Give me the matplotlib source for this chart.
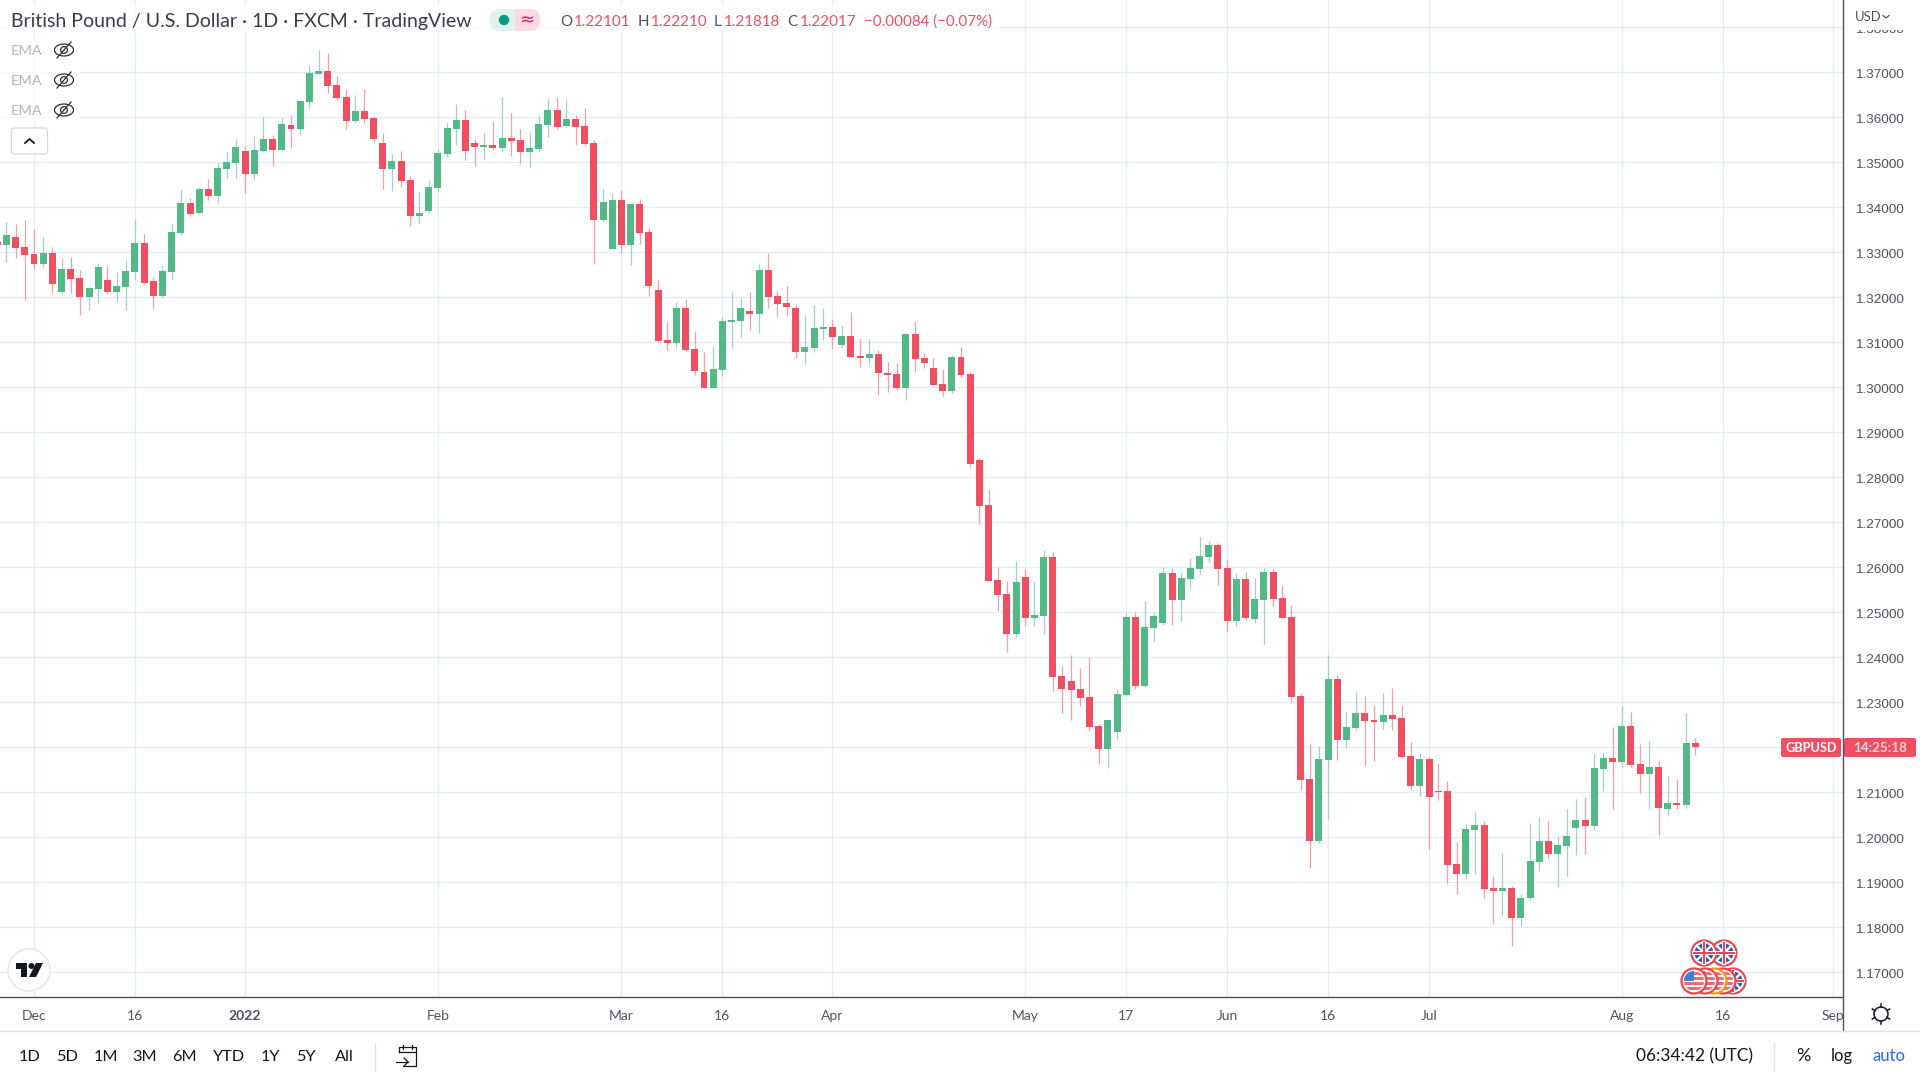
import numpy as np
import matplotlib
matplotlib.use('Agg')
import matplotlib.pyplot as plt
from matplotlib.patches import Circle, Rectangle, FancyBboxPatch, Ellipse
from matplotlib.transforms import ScaledTranslation

plt.rcParams['font.family'] = ['Lato', 'DejaVu Sans']

# daily GBPUSD candles, first bar is four sessions before 1 Dec 2021
first_bar = -4
opens = [1.3324, 1.3316, 1.3334, 1.3312, 1.3296, 1.3274, 1.3299, 1.3212, 1.3263, 1.3243,
         1.3201, 1.3219, 1.3238, 1.3212, 1.3223, 1.3256, 1.3321, 1.3236, 1.3203, 1.3256,
         1.3343, 1.3410, 1.3387, 1.3441, 1.3425, 1.3485, 1.3499, 1.3525, 1.3474, 1.3525,
         1.3552, 1.3527, 1.3583, 1.3574, 1.3634, 1.3696, 1.3703, 1.3672, 1.3645, 1.3592,
         1.3614, 1.3599, 1.3543, 1.3485, 1.3503, 1.3461, 1.3381, 1.3392, 1.3443, 1.3519,
         1.3574, 1.3594, 1.3543, 1.3534, 1.3539, 1.3532, 1.3554, 1.3550, 1.3523, 1.3530,
         1.3583, 1.3616, 1.3581, 1.3596, 1.3581, 1.3543, 1.3372, 1.3307,
         1.3416, 1.3316, 1.3407, 1.3345, 1.3216, 1.3105, 1.3098, 1.3176, 1.3085, 1.3034,
         1.2999, 1.3039, 1.3145, 1.3147, 1.3170, 1.3163, 1.3261, 1.3203, 1.3187, 1.3176,
         1.3079, 1.3087, 1.3130, 1.3134, 1.3094, 1.3114, 1.3070, 1.3065, 1.3074, 1.3032,
         1.3030, 1.2999, 1.3119, 1.3065, 1.3043, 1.3007, 1.2992, 1.3067,
         1.3030, 1.2839, 1.2739, 1.2572, 1.2541, 1.2452, 1.2579, 1.2487, 1.2492, 1.2623,
         1.2359, 1.2347, 1.2330, 1.2312, 1.2247, 1.2196, 1.2234, 1.2316, 1.2490, 1.2336,
         1.2465, 1.2476, 1.2587, 1.2527, 1.2574, 1.2596, 1.2623, 1.2650, 1.2599, 1.2481,
         1.2574, 1.2485, 1.2527, 1.2590, 1.2532, 1.2490,
         1.2314, 1.2130, 1.1992, 1.2172, 1.2352, 1.2216, 1.2243, 1.2276, 1.2261, 1.2256,
         1.2272, 1.2265, 1.2181, 1.2114, 1.2174, 1.2103, 1.2103, 1.1941, 1.1919, 1.2016,
         1.2027, 1.1887, 1.1881, 1.1887, 1.1821, 1.1865, 1.1945, 1.1992, 1.1963, 1.1981,
         1.2021, 1.2039, 1.2025, 1.2152, 1.2176, 1.2167, 1.2247, 1.2163, 1.2141, 1.2156,
         1.2063, 1.2076, 1.2072, 1.22101]
highs = [1.3345, 1.3367, 1.3363, 1.3372, 1.3352, 1.3334, 1.3312, 1.3287, 1.3290, 1.3261,
         1.3223, 1.3276, 1.3270, 1.3256, 1.3283, 1.3374, 1.3341, 1.3245, 1.3272, 1.3365,
         1.3439, 1.3421, 1.3445, 1.3463, 1.3501, 1.3523, 1.3552, 1.3536, 1.3559, 1.3601,
         1.3561, 1.3599, 1.3605, 1.3636, 1.3716, 1.3750, 1.3743, 1.3692, 1.3663, 1.3650,
         1.3663, 1.3603, 1.3565, 1.3519, 1.3525, 1.3470, 1.3434, 1.3461, 1.3530, 1.3587,
         1.3630, 1.3616, 1.3552, 1.3565, 1.3590, 1.3645, 1.3610, 1.3574, 1.3567, 1.3603,
         1.3641, 1.3643, 1.3638, 1.3605, 1.3621, 1.3550, 1.3441, 1.3432,
         1.3439, 1.3407, 1.3419, 1.3354, 1.3239, 1.3145, 1.3190, 1.3196, 1.3125, 1.3079,
         1.3090, 1.3156, 1.3212, 1.3199, 1.3212, 1.3274, 1.3299, 1.3214, 1.3225, 1.3185,
         1.3161, 1.3183, 1.3176, 1.3152, 1.3136, 1.3167, 1.3107, 1.3107, 1.3083, 1.3056,
         1.3054, 1.3119, 1.3147, 1.3076, 1.3065, 1.3041, 1.3072, 1.3090,
         1.3036, 1.2843, 1.2772, 1.2601, 1.2570, 1.2614, 1.2596, 1.2567, 1.2639, 1.2634,
         1.2381, 1.2405, 1.2376, 1.2401, 1.2252, 1.2261, 1.2330, 1.2499, 1.2501, 1.2525,
         1.2501, 1.2601, 1.2599, 1.2590, 1.2621, 1.2667, 1.2659, 1.2654, 1.2616, 1.2587,
         1.2590, 1.2576, 1.2599, 1.2596, 1.2559, 1.2516,
         1.2321, 1.2207, 1.2203, 1.2405, 1.2361, 1.2279, 1.2323, 1.2314, 1.2294, 1.2321,
         1.2332, 1.2292, 1.2212, 1.2187, 1.2178, 1.2165, 1.2125, 1.1990, 1.2030, 1.2056,
         1.2036, 1.1914, 1.1965, 1.1892, 1.1874, 1.2032, 1.2045, 1.2036, 1.2003, 1.2063,
         1.2085, 1.2090, 1.2185, 1.2190, 1.2245, 1.2292, 1.2279, 1.2207, 1.2214, 1.2170,
         1.2136, 1.2130, 1.2276, 1.22210]
lows = [1.3297, 1.3279, 1.3287, 1.3194, 1.3264, 1.3268, 1.3210, 1.3210, 1.3210, 1.3161,
        1.3172, 1.3187, 1.3207, 1.3192, 1.3172, 1.3241, 1.3230, 1.3174, 1.3201, 1.3241,
        1.3339, 1.3381, 1.3385, 1.3416, 1.3410, 1.3465, 1.3465, 1.3432, 1.3461, 1.3523,
        1.3492, 1.3525, 1.3532, 1.3563, 1.3621, 1.3696, 1.3654, 1.3638, 1.3574, 1.3587,
        1.3587, 1.3545, 1.3441, 1.3436, 1.3445, 1.3359, 1.3365, 1.3387, 1.3434, 1.3512,
        1.3539, 1.3505, 1.3492, 1.3507, 1.3527, 1.3525, 1.3514, 1.3496, 1.3487, 1.3525,
        1.3556, 1.3574, 1.3579, 1.3539, 1.3536, 1.3274, 1.3367, 1.3307,
        1.3299, 1.3272, 1.3319, 1.3203, 1.3101, 1.3083, 1.3087, 1.3081, 1.3027, 1.2998,
        1.2998, 1.3025, 1.3087, 1.3112, 1.3127, 1.3121, 1.3176, 1.3156, 1.3159, 1.3065,
        1.3052, 1.3079, 1.3105, 1.3085, 1.3087, 1.3067, 1.3045, 1.3052, 1.2983, 1.2990,
        1.2994, 1.2972, 1.3034, 1.3043, 1.3005, 1.2981, 1.2987, 1.3023,
        1.2823, 1.2696, 1.2570, 1.2503, 1.2412, 1.2445, 1.2472, 1.2470, 1.2452, 1.2325,
        1.2276, 1.2261, 1.2292, 1.2236, 1.2163, 1.2154, 1.2216, 1.2314, 1.2330, 1.2334,
        1.2436, 1.2472, 1.2472, 1.2481, 1.2552, 1.2585, 1.2612, 1.2561, 1.2459, 1.2470,
        1.2483, 1.2476, 1.2430, 1.2514, 1.2487, 1.2301,
        1.2105, 1.1932, 1.1987, 1.2041, 1.2172, 1.2199, 1.2239, 1.2161, 1.2170, 1.2241,
        1.2239, 1.2178, 1.2105, 1.2092, 1.1974, 1.2083, 1.1896, 1.1874, 1.1907, 1.1919,
        1.1865, 1.1807, 1.1825, 1.1759, 1.1803, 1.1861, 1.1925, 1.1952, 1.1890, 1.1914,
        1.1961, 1.1963, 1.2016, 1.2103, 1.2063, 1.2156, 1.2156, 1.2099, 1.2063, 1.2003,
        1.2047, 1.2063, 1.2065, 1.21818]
closes = [1.3316, 1.3339, 1.3310, 1.3294, 1.3274, 1.3299, 1.3230, 1.3263, 1.3241, 1.3201,
          1.3221, 1.3267, 1.3212, 1.3225, 1.3259, 1.3321, 1.3232, 1.3203, 1.3259, 1.3345,
          1.3410, 1.3385, 1.3441, 1.3425, 1.3487, 1.3501, 1.3534, 1.3474, 1.3527, 1.3552,
          1.3527, 1.3585, 1.3574, 1.3636, 1.3699, 1.3703, 1.3670, 1.3643, 1.3592, 1.3614,
          1.3596, 1.3552, 1.3485, 1.3503, 1.3459, 1.3381, 1.3387, 1.3445, 1.3521, 1.3576,
          1.3594, 1.3525, 1.3534, 1.3539, 1.3532, 1.3554, 1.3547, 1.3523, 1.3532, 1.3585,
          1.3616, 1.3578, 1.3596, 1.3578, 1.3541, 1.3372, 1.3412, 1.3416,
          1.3316, 1.3407, 1.3343, 1.3225, 1.3103, 1.3098, 1.3176, 1.3083, 1.3036, 1.2999,
          1.3041, 1.3147, 1.3150, 1.3176, 1.3163, 1.3261, 1.3201, 1.3185, 1.3179, 1.3079,
          1.3090, 1.3132, 1.3134, 1.3112, 1.3114, 1.3067, 1.3065, 1.3074, 1.3032, 1.3027,
          1.2999, 1.3119, 1.3063, 1.3054, 1.3005, 1.2992, 1.3067, 1.3027,
          1.2830, 1.2736, 1.2570, 1.2539, 1.2452, 1.2567, 1.2487, 1.2494, 1.2623, 1.2356,
          1.2330, 1.2327, 1.2310, 1.2245, 1.2196, 1.2261, 1.2319, 1.2490, 1.2336, 1.2467,
          1.2492, 1.2587, 1.2527, 1.2576, 1.2599, 1.2625, 1.2650, 1.2596, 1.2481, 1.2574,
          1.2487, 1.2530, 1.2590, 1.2530, 1.2487, 1.2312,
          1.2127, 1.1992, 1.2174, 1.2352, 1.2216, 1.2245, 1.2276, 1.2259, 1.2256, 1.2272,
          1.2263, 1.2178, 1.2114, 1.2174, 1.2090, 1.2101, 1.1939, 1.1919, 1.2019, 1.2027,
          1.1885, 1.1881, 1.1887, 1.1821, 1.1865, 1.1947, 1.1992, 1.1963, 1.1983, 1.2003,
          1.2039, 1.2025, 1.2154, 1.2176, 1.2167, 1.2247, 1.2161, 1.2141, 1.2156, 1.2065,
          1.2076, 1.2072, 1.2210, 1.22017]

# dates on the time axis, given as session number counted from 1 Dec 2021
time_ticks = [0, 11, 23, 44, 64, 75, 87, 108, 119, 130, 141, 152, 173, 184, 196]
time_labels = ['Dec', '16', '2022', 'Feb', 'Mar', '16', 'Apr', 'May', '17', 'Jun', '16', 'Jul', 'Aug', '16', 'Sep']
price_ticks = [1.17, 1.18, 1.19, 1.20, 1.21, 1.22, 1.23, 1.24, 1.25, 1.26, 1.27, 1.28,
               1.29, 1.30, 1.31, 1.32, 1.33, 1.34, 1.35, 1.36, 1.37, 1.38]
ranges = ['1D', '5D', '1M', '3M', '6M', 'YTD', '1Y', '5Y', 'All']
range_x = [30, 67, 106, 145, 184, 228, 270, 306, 344]

UP = '#53b987'
DOWN = '#ef4f60'
UP_WICK = '#a6cdcb'
DOWN_WICK = '#f79cab'
GRID = '#e3edf3'
TEXT = '#50535e'

o = np.array(opens)
h = np.array(highs)
l = np.array(lows)
c = np.array(closes)
idx = np.arange(first_bar, first_bar + len(o))
up = c >= o

fig = plt.figure(figsize=(19.2, 10.8), dpi=100, facecolor='white')
ax = fig.add_axes([0, 1 - 997 / 1080, 1843 / 1920, 997 / 1080])
ax.set_xlim(-3.705, 197.1)
ax.set_ylim(1.16451, 1.38607)

ax.set_axisbelow(True)
ax.grid(True, color=GRID, lw=0.9)
ax.vlines(idx[up], l[up], h[up], color=UP_WICK, lw=0.9, zorder=2)
ax.vlines(idx[~up], l[~up], h[~up], color=DOWN_WICK, lw=0.9, zorder=2)
ax.bar(idx[up], (c - o)[up], bottom=o[up], width=0.76, color=UP, zorder=3)
ax.bar(idx[~up], (o - c)[~up], bottom=c[~up], width=0.76, color=DOWN, zorder=3)

ax.set_xticks(time_ticks)
ax.set_xticklabels(time_labels, color=TEXT, fontsize=10)
ax.get_xticklabels()[2].set_fontweight('bold')
ax.yaxis.tick_right()
ax.set_yticks(price_ticks)
ax.set_yticklabels(['%.5f' % p for p in price_ticks], color=TEXT, fontsize=9.7, family='Liberation Sans')
ax.tick_params(axis='x', length=0, pad=9)
ax.tick_params(axis='y', length=0, pad=9)
# labels sit one pixel lower than matplotlib centres them
down_1px = ScaledTranslation(0, -1 / 100, fig.dpi_scale_trans)
for lab in ax.get_yticklabels():
    lab.set_transform(lab.get_transform() + down_1px)
for s in ['top', 'left', 'right']:
    ax.spines[s].set_visible(False)
ax.spines['bottom'].set_color('#4f5258')
ax.spines['bottom'].set_linewidth(1.0)

# everything around the chart, drawn in screen pixels
ov = fig.add_axes([0, 0, 1, 1], facecolor='none')
ov.set_xlim(0, 1920)
ov.set_ylim(1080, 0)
ov.axis('off')

ov.add_patch(Rectangle((0, 5), 1000, 28, fc='white', alpha=0.75, lw=0))
ov.add_patch(Rectangle((0, 38), 80, 86, fc='white', alpha=0.7, lw=0))
ov.add_patch(Rectangle((1844, 0), 76, 30, fc='white', lw=0))
ov.add_patch(Rectangle((1844, 998), 76, 33, fc='white', lw=0))
ov.add_patch(Rectangle((0, 1032), 1920, 48, fc='white', lw=0))
ov.plot([1843, 1843], [0, 1031], color='#4f5258', lw=1.0)
ov.plot([0, 1920], [1031, 1031], color='#e0e3eb', lw=1.0)

# header
ov.text(11, 22, 'British Pound / U.S. Dollar · 1D · FXCM · TradingView', fontsize=14, color='#3a3d47', va='center')
ov.add_patch(FancyBboxPatch((490, 9), 30, 22, boxstyle='round,pad=0,rounding_size=10', fc='#dff2ee', lw=0))
ov.add_patch(Rectangle((515, 9), 13, 22, fc='#fbd9e4', lw=0))
ov.add_patch(FancyBboxPatch((520, 9), 20, 22, boxstyle='round,pad=0,rounding_size=10', fc='#fbd9e4', lw=0))
ov.add_patch(Circle((504, 20), 5.2, fc='#089981', lw=0))
ov.text(527, 20, '≈', fontsize=13, color='#d81b60', ha='center', va='center', family='DejaVu Sans')
for x, s, col in [(560, 'O', TEXT), (574, '1.22101', DOWN), (638, 'H', TEXT), (651, '1.22210', DOWN),
                  (714, 'L', TEXT), (724, '1.21818', DOWN), (787, 'C', TEXT), (800, '1.22017', DOWN),
                  (864, '−0.00084 (−0.07%)', DOWN)]:
    ov.text(x, 22, s, fontsize=10.9, color=col, va='center')

# hidden indicators
for y in [51, 81, 111]:
    ov.text(11, y, 'EMA', fontsize=10.4, color='#b2b5be', va='center')
    ov.add_patch(Ellipse((64, y - 1), 19, 12, fc='none', ec='#2a2e39', lw=0.9))
    ov.add_patch(Circle((64, y - 1), 3.4, fc='none', ec='#2a2e39', lw=0.9))
    ov.plot([57, 71], [y + 7, y - 9], color='#2a2e39', lw=0.9)
ov.add_patch(FancyBboxPatch((11.5, 128), 36, 26, boxstyle='round,pad=0,rounding_size=3', fc='white', ec='#d6d8e0', lw=0.9))
ov.plot([25, 29.5, 34], [143, 139, 143], color='#131722', lw=1.3)

# logo
ov.add_patch(Circle((29, 970), 21, fc='white', ec='#e8e9ee', lw=1.1))
ov.fill([16, 27, 27, 21, 21, 16], [963, 963, 977, 977, 969, 969], color='#131722', lw=0)
ov.add_patch(Circle((31.5, 966), 3, fc='#131722', lw=0))
ov.fill([36, 43, 36, 29], [963, 963, 977, 977], color='#131722', lw=0)


def uk_flag(x, y):
    ov.add_patch(Circle((x, y), 12.5, fc='white', ec='#f0424f', lw=1.6, zorder=5))
    ov.add_patch(Circle((x, y), 9.5, fc='#1f57a8', lw=0, zorder=5))
    for dx, dy in [(1, 1), (1, -1)]:
        ov.plot([x - 7 * dx, x + 7 * dx], [y - 7 * dy, y + 7 * dy], color='white', lw=1.8, zorder=6)
    ov.plot([x - 10, x + 10], [y, y], color='white', lw=3, zorder=6)
    ov.plot([x, x], [y - 10, y + 10], color='white', lw=3, zorder=6)
    ov.plot([x - 10, x + 10], [y, y], color='#f0424f', lw=1.5, zorder=6)
    ov.plot([x, x], [y - 10, y + 10], color='#f0424f', lw=1.5, zorder=6)


def us_flag(x, y, z, ring='#f0424f'):
    ov.add_patch(Circle((x, y), 12.5, fc='white', ec=ring, lw=1.6, zorder=z))
    clip = Circle((x, y), 10, transform=ov.transData)
    for k in range(4):
        r = Rectangle((x - 11, y - 9 + k * 5), 22, 2.6, fc='#f26a75', lw=0, zorder=z)
        ov.add_patch(r)
        r.set_clip_path(clip)
    r = Rectangle((x - 11, y - 11), 11, 10.5, fc='#3d7fd0', lw=0, zorder=z)
    ov.add_patch(r)
    r.set_clip_path(clip)


# economic event markers
uk_flag(1724, 953)
uk_flag(1704, 953)
uk_flag(1733, 981)
us_flag(1723, 981, 7)
us_flag(1714, 981, 7.5, ring='#ff9800')
us_flag(1705, 981, 8)
us_flag(1694, 981, 8.5)

# price tag
ov.add_patch(FancyBboxPatch((1781, 738), 60, 19, boxstyle='round,pad=0,rounding_size=2', fc=DOWN, lw=0))
ov.add_patch(FancyBboxPatch((1844, 738), 72, 19, boxstyle='round,pad=0,rounding_size=2', fc=DOWN, lw=0))
ov.text(1811, 748, 'GBPUSD', fontsize=9.2, color='white', ha='center', va='center', weight='bold')
ov.text(1880, 748, '14:25:18', fontsize=9.6, color='#fbd5da', ha='center', va='center', weight='bold')

ov.text(1855, 17, 'USD', fontsize=9.4, color=TEXT, va='center')
ov.plot([1883, 1886, 1889], [15.5, 18, 15.5], color=TEXT, lw=0.9)

# gear
ov.add_patch(Circle((1881, 1014), 7, fc='white', ec='#131722', lw=1.1))
for a in np.deg2rad(np.arange(0, 360, 60) + 30):
    ov.plot([1881 + 7 * np.cos(a), 1881 + 10 * np.cos(a)], [1014 + 7 * np.sin(a), 1014 + 10 * np.sin(a)], color='#131722', lw=1.1)

# bottom toolbar
for x, s in zip(range_x, ranges):
    ov.text(x, 1057, s, fontsize=11.7, color='#131722', ha='center', va='center')
ov.plot([375, 375], [1043, 1070], color='#e0e3eb', lw=1)
ov.plot([399, 399, 416, 416, 403], [1052, 1047, 1047, 1066, 1066], color='#131722', lw=0.9)
ov.plot([399, 416], [1052, 1052], color='#131722', lw=0.9)
ov.plot([403, 403], [1045, 1049], color='#131722', lw=0.9)
ov.plot([412, 412], [1045, 1049], color='#131722', lw=0.9)
ov.plot([396, 408], [1062, 1062], color='#131722', lw=0.9)
ov.plot([404, 408, 404], [1058, 1062, 1066], color='#131722', lw=0.9)
ov.text(1636, 1056, '06:34:42 (UTC)', fontsize=12.4, color='#131722', va='center')
ov.plot([1774, 1774], [1043, 1070], color='#e0e3eb', lw=1)
ov.text(1803, 1056, '%', fontsize=13, color='#131722', ha='center', va='center')
ov.text(1842, 1056, 'log', fontsize=12, color='#131722', ha='center', va='center')
ov.text(1889, 1056, 'auto', fontsize=12, color='#2962ff', ha='center', va='center')

fig.savefig('out.png', dpi=100)
